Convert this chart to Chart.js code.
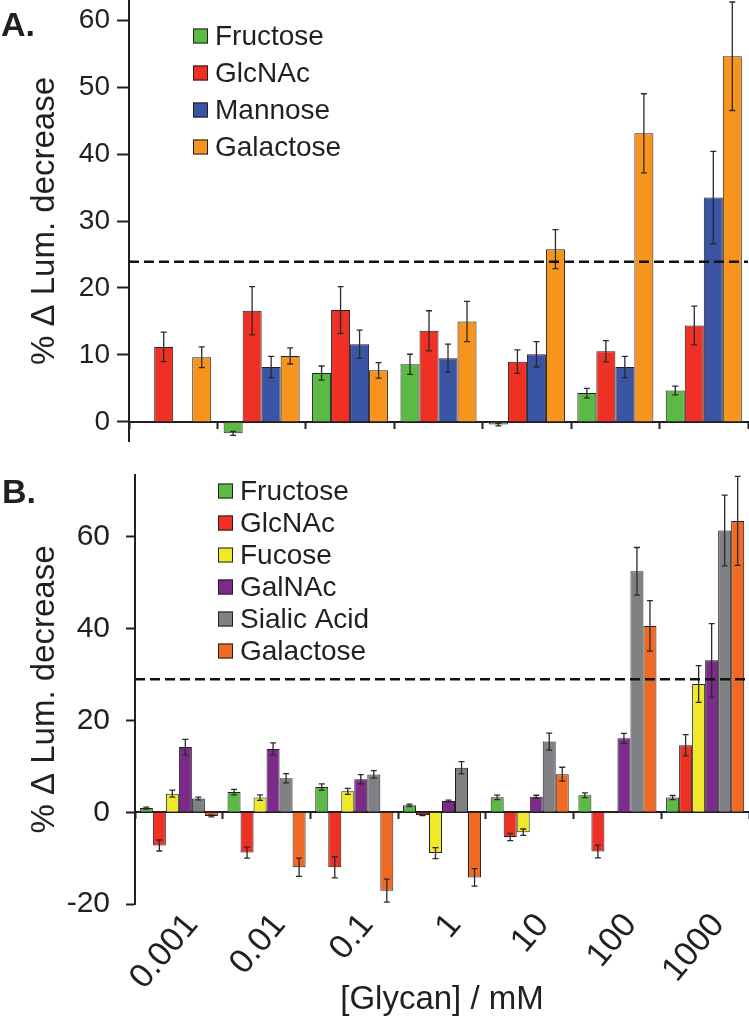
<!DOCTYPE html>
<html>
<head>
<meta charset="utf-8">
<script src="https://cdn.jsdelivr.net/npm/chart.js@4"></script>
<style>
  body { margin: 0; background: #fff; }
  #wrap { position: relative; width: 749px; height: 1020px; overflow: hidden; }
  canvas { position: absolute; left: 0; }
  #chartA { top: 0; }
  #chartB { top: 470px; }
</style>
</head>
<body>
<div id="wrap">
  <canvas id="chartA" width="749" height="442"></canvas>
  <canvas id="chartB" width="749" height="550"></canvas>
</div>
<script>
// glycan concentrations (mM)
const concLabels = ['0.001', '0.01', '0.1', '1', '10', '100', '1000'];

// Panel A values (% lum. decrease) and error bars
const fructoseA = [null, -1.7, 7.3, 8.6, -0.4, 4.3, 4.7];
const fructoseAErr = [null, 0.3, 1.05, 1.5, 0.2, 0.7, 0.65];
const glcnacA = [11.2, 16.6, 16.7, 13.6, 9.0, 10.55, 14.4];
const glcnacAErr = [2.2, 3.6, 3.5, 3.0, 1.75, 1.6, 2.9];
const mannoseA = [0.1, 8.2, 11.6, 9.5, 10.1, 8.2, 33.5];
const mannoseAErr = [null, 1.6, 2.1, 2.1, 1.9, 1.6, 6.9];
const galactoseA = [9.65, 9.85, 7.7, 15.0, 25.8, 43.1, 54.6];
const galactoseAErr = [1.55, 1.2, 1.15, 3.0, 2.9, 5.9, 8.1];
const thresholdA = 23.9;
const yTicksA = [0, 10, 20, 30, 40, 50, 60];

// Panel B values and error bars
const fructoseB = [0.9, 4.4, 5.5, 1.5, 3.25, 3.7, 3.2];
const fructoseBErr = [0.2, 0.6, 0.7, 0.25, 0.5, 0.5, 0.45];
const glcnacB = [-7.25, -8.8, -12.0, -0.6, -5.4, -8.55, 14.6];
const glcnacBErr = [1.2, 1.2, 2.3, 0.15, 0.8, 1.4, 2.3];
const fucoseB = [4.05, 3.2, 4.55, -8.9, -4.35, -0.2, 27.95];
const fucoseBErr = [0.75, 0.6, 0.65, 1.2, 0.7, null, 4.0];
const galnacB = [14.2, 13.8, 7.2, 2.45, 3.4, 16.1, 33.1];
const galnacBErr = [1.7, 1.3, 1.0, 0.2, 0.3, 1.1, 8.0];
const sialicB = [3.0, 7.4, 8.25, 9.7, 15.4, 52.5, 61.4];
const sialicBErr = [0.3, 1.0, 0.8, 1.35, 1.85, 5.2, 7.7];
const galactoseB = [-0.8, -12.0, -17.1, -14.2, 8.3, 40.6, 63.5];
const galactoseBErr = [0.2, 2.0, 2.5, 1.9, 1.5, 5.5, 9.7];
const thresholdB = 29;
const yTicksB = [-20, 0, 20, 40, 60];

const ink = '#231f20';
const fontFamily = "'Liberation Sans', Arial, sans-serif";
Chart.defaults.font.family = fontFamily;
Chart.defaults.color = ink;

// error bars, dashed threshold, legend and panel letter
const extrasPlugin = {
  id: 'extras',
  afterDatasetsDraw(chart, args, opts) {
    const ctx = chart.ctx;
    const yScale = chart.scales.y;
    const area = chart.chartArea;
    ctx.save();

    // error bars
    ctx.strokeStyle = '#2a2a2a';
    ctx.lineWidth = 1.3;
    chart.data.datasets.forEach((ds, i) => {
      const meta = chart.getDatasetMeta(i);
      meta.data.forEach((bar, j) => {
        const v = ds.data[j];
        const e = ds.errors[j];
        if (v == null || e == null) return;
        const top = yScale.getPixelForValue(v + e);
        const bot = yScale.getPixelForValue(v - e);
        const x = bar.x;
        ctx.beginPath();
        ctx.moveTo(x, top); ctx.lineTo(x, bot);
        ctx.moveTo(x - 3, top); ctx.lineTo(x + 3, top);
        ctx.moveTo(x - 3, bot); ctx.lineTo(x + 3, bot);
        ctx.stroke();
      });
    });

    // threshold line
    const ty = yScale.getPixelForValue(opts.threshold);
    ctx.strokeStyle = '#111';
    ctx.lineWidth = 2.5;
    ctx.setLineDash([10, 5]);
    ctx.beginPath();
    ctx.moveTo(area.left, ty);
    ctx.lineTo(area.right, ty);
    ctx.stroke();
    ctx.setLineDash([]);

    // legend
    const lg = opts.legend;
    ctx.font = lg.fontSize + 'px ' + fontFamily;
    ctx.textBaseline = 'middle';
    ctx.textAlign = 'left';
    ctx.lineWidth = 1;
    chart.data.datasets.forEach((ds, i) => {
      const cy = lg.y + i * lg.dy;
      ctx.fillStyle = ds.backgroundColor;
      ctx.fillRect(lg.x, cy - lg.box / 2, lg.box, lg.box);
      ctx.strokeStyle = ink;
      ctx.strokeRect(lg.x + 0.5, cy - lg.box / 2 + 0.5, lg.box - 1, lg.box - 1);
      ctx.fillStyle = ink;
      ctx.fillText(ds.label, lg.x + lg.box + 7, cy + 1);
    });

    // panel letter
    ctx.font = 'bold 34px ' + fontFamily;
    ctx.textBaseline = 'alphabetic';
    ctx.fillStyle = ink;
    ctx.fillText(opts.panel, opts.panelX, opts.panelY);

    ctx.restore();
  }
};

function barSet(label, data, errors, color) {
  return {
    label: label,
    data: data,
    errors: errors,
    backgroundColor: color,
    borderColor: ink,
    borderWidth: 1
  };
}

const green = '#5cb946';
const red = '#ee3124';
const blue = '#3a54a4';
const orange = '#f7941e';
const yellow = '#f0e92a';
const purple = '#7d2b8b';
const gray = '#808184';
const redOrange = '#f16a25';

// Panel A
new Chart(document.getElementById('chartA'), {
  type: 'bar',
  data: {
    labels: concLabels,
    datasets: [
      barSet('Fructose', fructoseA, fructoseAErr, green),
      barSet('GlcNAc', glcnacA, glcnacAErr, red),
      barSet('Mannose', mannoseA, mannoseAErr, blue),
      barSet('Galactose', galactoseA, galactoseAErr, orange)
    ]
  },
  options: {
    responsive: false,
    animation: false,
    categoryPercentage: 0.86,
    barPercentage: 1.0,
    layout: { padding: { left: 0, right: 1, top: 0, bottom: 0 } },
    plugins: {
      legend: { display: false },
      tooltip: { enabled: false },
      extras: {
        threshold: thresholdA,
        legend: { x: 193, y: 36, dy: 37, box: 15, fontSize: 28 },
        panel: 'A.', panelX: 1, panelY: 36
      }
    },
    scales: {
      x: {
        position: { y: 0 },
        ticks: { display: false },
        grid: { drawOnChartArea: false, offset: true, tickLength: 6, tickWidth: 2, color: ink },
        border: { color: ink, width: 2 }
      },
      y: {
        min: -3,
        max: 63,
        afterBuildTicks: s => { s.ticks = yTicksA.map(v => ({ value: v })); },
        afterFit: s => { s.width = 129; s.paddingTop = 0; s.paddingBottom = 0; },
        grid: { drawOnChartArea: false, tickLength: 12, tickWidth: 2, color: ink },
        border: { color: ink, width: 2 },
        ticks: { font: { size: 28 }, color: ink, padding: 7 },
        title: {
          display: true,
          text: '% Δ Lum. decrease',
          font: { size: 33 },
          color: ink,
          padding: { top: 25, bottom: 0 }
        }
      }
    }
  },
  plugins: [extrasPlugin]
});

// Panel B
new Chart(document.getElementById('chartB'), {
  type: 'bar',
  data: {
    labels: concLabels,
    datasets: [
      barSet('Fructose', fructoseB, fructoseBErr, green),
      barSet('GlcNAc', glcnacB, glcnacBErr, red),
      barSet('Fucose', fucoseB, fucoseBErr, yellow),
      barSet('GalNAc', galnacB, galnacBErr, purple),
      barSet('Sialic Acid', sialicB, sialicBErr, gray),
      barSet('Galactose', galactoseB, galactoseBErr, redOrange)
    ]
  },
  options: {
    responsive: false,
    animation: false,
    categoryPercentage: 0.89,
    barPercentage: 1.0,
    layout: { padding: { left: 0, right: 0, top: 5, bottom: 0 } },
    plugins: {
      legend: { display: false },
      tooltip: { enabled: false },
      extras: {
        threshold: thresholdB,
        legend: { x: 218, y: 21, dy: 32, box: 15, fontSize: 28 },
        panel: 'B.', panelX: 2, panelY: 33
      }
    },
    scales: {
      x: {
        position: { y: 0 },
        ticks: { display: false },
        grid: { drawOnChartArea: false, offset: true, tickLength: 6, tickWidth: 2, color: ink },
        border: { color: ink, width: 2 }
      },
      x2: {
        type: 'category',
        position: 'bottom',
        offset: true,
        grid: { display: false, drawTicks: false },
        border: { display: false },
        ticks: {
          autoSkip: false, minRotation: 50, maxRotation: 50,
          font: { size: 34 }, color: ink, padding: 2, labelOffset: 13
        },
        title: {
          display: true,
          text: '[Glycan] / mM',
          font: { size: 33 },
          color: ink,
          padding: { top: 0, bottom: 0 }
        },
        afterFit: s => { s.height = 116; s.paddingLeft = 0; s.paddingRight = 0; }
      },
      y: {
        min: -20,
        max: 73.5,
        afterBuildTicks: s => { s.ticks = yTicksB.map(v => ({ value: v })); },
        afterFit: s => { s.width = 135; s.paddingTop = 0; s.paddingBottom = 0; },
        grid: { drawOnChartArea: false, tickLength: 9, tickWidth: 2, color: ink },
        border: { color: ink, width: 2 },
        ticks: { font: { size: 30 }, color: ink, padding: 16 },
        title: {
          display: true,
          text: '% Δ Lum. decrease',
          font: { size: 33 },
          color: ink,
          padding: { top: 25, bottom: 0 }
        }
      }
    }
  },
  plugins: [extrasPlugin]
});
</script>
</body>
</html>
